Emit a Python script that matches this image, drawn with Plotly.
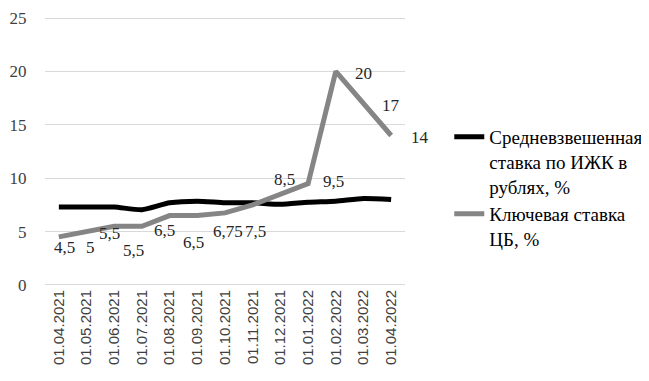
import plotly.graph_objects as go

dates = ["01.04.2021", "01.05.2021", "01.06.2021", "01.07.2021", "01.08.2021",
         "01.09.2021", "01.10.2021", "01.11.2021", "01.12.2021", "01.01.2022",
         "01.02.2022", "01.03.2022", "01.04.2022"]
mortgage_rate = [7.3, 7.3, 7.3, 7.05, 7.7, 7.85, 7.7, 7.7, 7.55, 7.75, 7.85, 8.1, 8.0]
key_rate = [4.5, 5, 5.5, 5.5, 6.5, 6.5, 6.75, 7.5, 8.5, 9.5, 20, 17, 14]
key_labels = ["4,5", "5", "5,5", "5,5", "6,5", "6,5", "6,75", "7,5", "8,5", "9,5", "20", "17", "14"]
# label offsets in pixels (dx right, dy down) for placement only
label_dx = [6, 4, -5, -8, -5, -4, 3, 3, 4, 25, 28, 28, 29]
label_dy = [11, 16, 7, 24, 15, 27, 19, 27, -15, -2, 2, 2, 2]
name_mortgage = "Средневзвешенная<br>ставка по ИЖК в<br>рублях, %"
name_key = "Ключевая ставка<br>ЦБ, %"

SERIF = "Liberation Serif"

fig = go.Figure()
fig.add_trace(go.Scatter(
    x=dates, y=mortgage_rate, name=name_mortgage, mode="lines",
    line=dict(color="#000000", width=5, shape="spline", smoothing=0.6),
))
fig.add_trace(go.Scatter(
    x=dates, y=key_rate, name=name_key, mode="lines",
    line=dict(color="#858585", width=5),
))
for d, v, t, dx, dy in zip(dates, key_rate, key_labels, label_dx, label_dy):
    fig.add_annotation(x=d, y=v, text=t, showarrow=False, xshift=dx, yshift=-dy,
                       xanchor="center", yanchor="middle",
                       font=dict(family=SERIF, size=17, color="#262626"))

fig.update_layout(
    width=649, height=381,
    margin=dict(l=37, r=246, t=9, b=103),
    plot_bgcolor="white", paper_bgcolor="white",
    showlegend=True,
    legend=dict(x=1.123, y=0.625, xanchor="left", yanchor="top", valign="top",
                font=dict(family=SERIF, size=19, color="#000000"),
                tracegroupgap=6, bgcolor="rgba(0,0,0,0)"),
    xaxis=dict(type="category", range=[-0.5, 12.5], tickangle=-90, automargin=False,
               showgrid=False, showline=False, ticks="",
               tickfont=dict(family="Liberation Sans", size=15, color="#404040")),
    yaxis=dict(range=[-0.1, 25.1], tickvals=[0, 5, 10, 15, 20, 25],
               showgrid=True, gridcolor="#d9d9d9", gridwidth=1,
               zeroline=False, showline=False, automargin=False,
               ticks="outside", ticklen=14, tickcolor="rgba(0,0,0,0)",
               ticklabeloverflow="allow",
               tickfont=dict(family=SERIF, size=17, color="#404040")),
)

fig.write_html("out.html")
